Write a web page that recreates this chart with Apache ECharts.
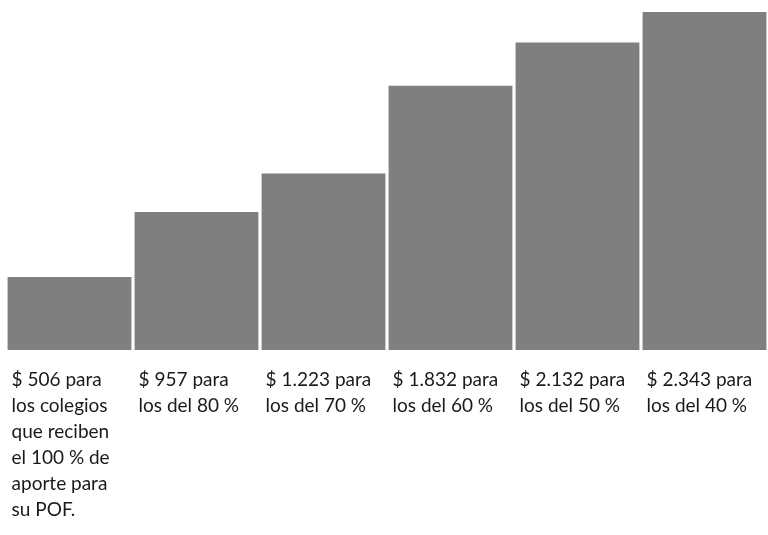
<!DOCTYPE html>
<html>
<head>
<meta charset="utf-8">
<script src="https://cdn.jsdelivr.net/npm/echarts@6/dist/echarts.min.js"></script>
<style>
  html, body { margin: 0; padding: 0; background: #fff; }
  #chart { width: 768px; height: 535px; }
</style>
</head>
<body>
<div id="chart"></div>
<script>
// Monthly contribution amounts by share of POF funding received
const amounts = [506, 957, 1223, 1832, 2132, 2343];
const captions = [
  'los colegios\nque reciben\nel 100 % de\naporte para\nsu POF.',
  'los del 80 %',
  'los del 70 %',
  'los del 60 %',
  'los del 50 %',
  'los del 40 %'
];
const categories = amounts.map(function (v, i) { return 'g' + i; });

function fmt(v) {
  return String(v).replace(/\B(?=(\d{3})+(?!\d))/g, '.');
}

const chart = echarts.init(document.getElementById('chart'));
chart.setOption({
  animation: false,
  grid: { left: 6, right: 0, top: 12, bottom: 185 },
  xAxis: {
    type: 'category',
    data: categories,
    show: false
  },
  yAxis: {
    type: 'value',
    min: 0,
    max: 'dataMax',
    show: false
  },
  series: [{
    type: 'bar',
    data: amounts,
    barCategoryGap: '2.5%',
    itemStyle: { color: '#7f7f7f' },
    label: {
      show: true,
      position: ['0%', '100%'],
      offset: [4, 17],
      align: 'left',
      verticalAlign: 'top',
      fontFamily: 'Lato',
      fontSize: 19,
      lineHeight: 26,
      color: '#1a1a1a',
      formatter: function (p) {
        return '$ ' + fmt(p.value) + ' para\n' + captions[p.dataIndex];
      }
    }
  }]
});
</script>
</body>
</html>
